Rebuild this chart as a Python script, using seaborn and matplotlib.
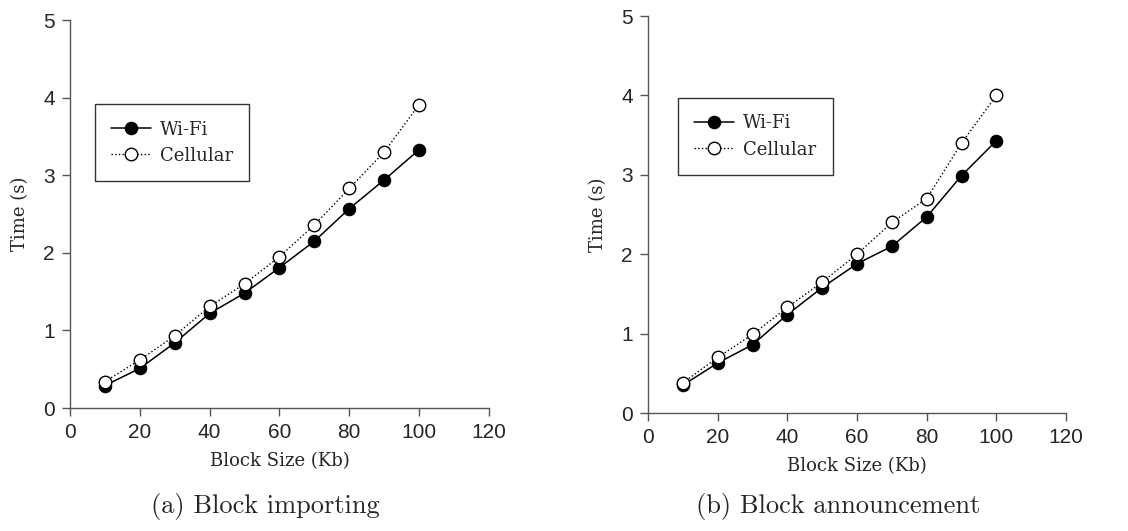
import matplotlib
matplotlib.use("Agg")
import matplotlib.pyplot as plt
import seaborn as sns
import pandas as pd

block_sizes = [10, 20, 30, 40, 50, 60, 70, 80, 90, 100]
import_wifi = [0.29, 0.51, 0.84, 1.22, 1.48, 1.81, 2.15, 2.57, 2.94, 3.33]
import_cell = [0.34, 0.62, 0.93, 1.31, 1.60, 1.95, 2.36, 2.83, 3.30, 3.91]
announce_wifi = [0.35, 0.63, 0.86, 1.24, 1.58, 1.88, 2.10, 2.47, 2.99, 3.43]
announce_cell = [0.38, 0.70, 0.99, 1.33, 1.65, 2.00, 2.40, 2.70, 3.40, 4.00]
series_names = ["Wi-Fi", "Cellular"]
captions = ["(a) Block importing", "(b) Block announcement"]
x_ticks = [0, 20, 40, 60, 80, 100, 120]
y_ticks = [0, 1, 2, 3, 4, 5]

sns.set_style("white")
plt.rcParams["font.family"] = ["Liberation Sans", "DejaVu Sans"]

fig = plt.figure(figsize=(11.28, 5.31), dpi=100)
ax_rects = [[0.062, 0.2316, 0.3715, 0.7306], [0.5745, 0.2222, 0.3706, 0.7476]]
legend_anchor = [(0.06, 0.783), (0.072, 0.793)]
caption_x = [0.235, 0.743]
panels = [(import_wifi, import_cell), (announce_wifi, announce_cell)]
label_font = dict(family="DejaVu Serif", size=13)
spine_col = "#555555"

for i, (rect, (wifi, cell)) in enumerate(zip(ax_rects, panels)):
    ax = fig.add_axes(rect)
    df = pd.DataFrame({"size": block_sizes, "wifi": wifi, "cell": cell})
    sns.lineplot(data=df, x="size", y="wifi", ax=ax, color="black", linewidth=1.1,
                 linestyle="-", marker="o", markersize=9, markerfacecolor="black",
                 markeredgecolor="black", label=series_names[0])
    sns.lineplot(data=df, x="size", y="cell", ax=ax, color="black", linewidth=1.0,
                 linestyle=":", marker="o", markersize=9, markerfacecolor="white",
                 markeredgecolor="black", markeredgewidth=1.0, label=series_names[1])
    ax.set_xlim(0, 120)
    ax.set_ylim(0, 5)
    ax.set_xticks(x_ticks)
    ax.set_yticks(y_ticks)
    ax.tick_params(axis="both", labelsize=15, length=6, width=1, color=spine_col,
                   direction="out", left=True, bottom=True, pad=5)
    for s in ["top", "right"]:
        ax.spines[s].set_visible(False)
    for s in ["left", "bottom"]:
        ax.spines[s].set_color(spine_col)
        ax.spines[s].set_linewidth(1)
    ax.set_xlabel("Block Size (Kb)", fontdict=label_font, labelpad=7)
    ax.set_ylabel("Time (s)", fontdict=label_font, labelpad=10)
    leg = ax.legend(loc="upper left", bbox_to_anchor=legend_anchor[i], borderaxespad=0,
                    frameon=True, fancybox=False, edgecolor="black",
                    prop=dict(family="DejaVu Serif", size=13),
                    handlelength=2.2, borderpad=0.9, labelspacing=0.45, handletextpad=0.5)
    leg.get_frame().set_linewidth(1.0)
    fig.text(caption_x[i], 0.047, captions[i],
             family="cmr10", size=19, ha="center", va="center")

fig.savefig("out.png", dpi=100)
